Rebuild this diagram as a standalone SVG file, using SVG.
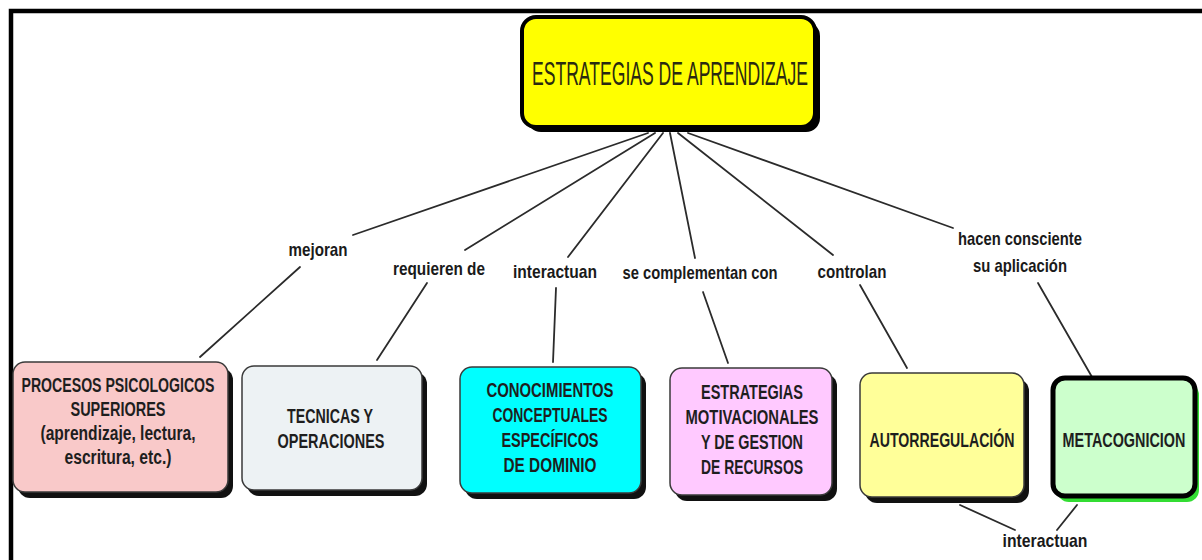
<svg xmlns="http://www.w3.org/2000/svg" width="1202" height="560" viewBox="0 0 1202 560">
<style>
.frame{fill:none;stroke:#000;stroke-width:4.5}
.shadow{fill:#111}
.box{stroke:#3a3a3a;stroke-width:1.5}
.nt{font-family:"Liberation Sans",Arial,sans-serif;font-weight:bold;font-size:20px;fill:#1e1e1e;text-anchor:middle}
.lbl{font-family:"Liberation Sans",Arial,sans-serif;font-weight:bold;font-size:19px;fill:#1a1a1a;text-anchor:middle}
.conn line{stroke:#2b2b2b;stroke-width:1.8;stroke-linecap:round}
</style>
<rect width="1202" height="560" fill="#fff"/>
<path class="frame" d="M11,560 V11 H1202"/>

<g id="connectors" class="conn">
<line x1="648" y1="133" x2="353" y2="235"/>
<line x1="300" y1="267" x2="200" y2="357"/>
<line x1="655" y1="133" x2="465" y2="250"/>
<line x1="427" y1="283" x2="377" y2="360"/>
<line x1="663" y1="133" x2="568" y2="257"/>
<line x1="556" y1="288" x2="553" y2="362"/>
<line x1="670" y1="133" x2="695" y2="258"/>
<line x1="703" y1="292" x2="728" y2="363"/>
<line x1="678" y1="133" x2="833" y2="255"/>
<line x1="860" y1="285" x2="907" y2="368"/>
<line x1="688" y1="133" x2="953" y2="228"/>
<line x1="1038" y1="283" x2="1092" y2="377"/>
<line x1="960" y1="505" x2="1015" y2="530"/>
<line x1="1077" y1="505" x2="1057" y2="530"/>
</g>

<g id="labels">
<text class="lbl" x="318" y="256" textLength="59" lengthAdjust="spacingAndGlyphs">mejoran</text>
<text class="lbl" x="439" y="275" textLength="92" lengthAdjust="spacingAndGlyphs">requieren de</text>
<text class="lbl" x="555" y="278" textLength="84" lengthAdjust="spacingAndGlyphs">interactuan</text>
<text class="lbl" x="700" y="279" textLength="155" lengthAdjust="spacingAndGlyphs">se complementan con</text>
<text class="lbl" x="852" y="278" textLength="69" lengthAdjust="spacingAndGlyphs">controlan</text>
<text class="lbl" x="1020" y="245" textLength="124" lengthAdjust="spacingAndGlyphs">hacen consciente</text>
<text class="lbl" x="1020" y="272" textLength="94" lengthAdjust="spacingAndGlyphs">su aplicación</text>
<text class="lbl" x="1045" y="547" textLength="85" lengthAdjust="spacingAndGlyphs">interactuan</text>
</g>

<g id="n-estrategias-aprendizaje">
<rect x="527" y="22" width="293" height="110" rx="14" fill="#000"/>
<rect x="522" y="17" width="293" height="110" rx="14" fill="#ffff00" stroke="#000" stroke-width="4"/>
<text x="670" y="85" font-family="'Liberation Sans',Arial,sans-serif" font-size="34" fill="#2a2a10" text-anchor="middle" textLength="276" lengthAdjust="spacingAndGlyphs">ESTRATEGIAS DE APRENDIZAJE</text>
</g>

<g id="n-procesos">
<rect class="shadow" x="18" y="368" width="215" height="130" rx="12"/>
<rect class="box" x="13" y="362" width="215" height="130" rx="12" fill="#f9c9c9"/>
<text class="nt" x="118" y="392" textLength="193" lengthAdjust="spacingAndGlyphs">PROCESOS PSICOLOGICOS</text>
<text class="nt" x="118" y="416" textLength="95" lengthAdjust="spacingAndGlyphs">SUPERIORES</text>
<text class="nt" x="118" y="440" textLength="155" lengthAdjust="spacingAndGlyphs">(aprendizaje, lectura,</text>
<text class="nt" x="118" y="464" textLength="107" lengthAdjust="spacingAndGlyphs">escritura, etc.)</text>
</g>

<g id="n-tecnicas">
<rect class="shadow" x="247" y="372" width="180" height="124" rx="12"/>
<rect class="box" x="242" y="366" width="180" height="124" rx="12" fill="#edf2f4"/>
<text class="nt" x="330" y="423" textLength="86" lengthAdjust="spacingAndGlyphs">TECNICAS Y</text>
<text class="nt" x="331" y="448" textLength="107" lengthAdjust="spacingAndGlyphs">OPERACIONES</text>
</g>

<g id="n-conocimientos">
<rect class="shadow" x="465" y="373" width="181" height="126" rx="12"/>
<rect class="box" x="460" y="367" width="181" height="126" rx="12" fill="#00ffff"/>
<text class="nt" x="550" y="397" textLength="127" lengthAdjust="spacingAndGlyphs">CONOCIMIENTOS</text>
<text class="nt" x="550" y="422" textLength="115" lengthAdjust="spacingAndGlyphs">CONCEPTUALES</text>
<text class="nt" x="550" y="447" textLength="97" lengthAdjust="spacingAndGlyphs">ESPECÍFICOS</text>
<text class="nt" x="550" y="472" textLength="93" lengthAdjust="spacingAndGlyphs">DE DOMINIO</text>
</g>

<g id="n-motivacionales">
<rect class="shadow" x="675" y="374" width="162" height="127" rx="12"/>
<rect class="box" x="670" y="368" width="162" height="127" rx="12" fill="#ffc9ff"/>
<text class="nt" x="752" y="399" textLength="102" lengthAdjust="spacingAndGlyphs">ESTRATEGIAS</text>
<text class="nt" x="752" y="424" textLength="133" lengthAdjust="spacingAndGlyphs">MOTIVACIONALES</text>
<text class="nt" x="752" y="449" textLength="102" lengthAdjust="spacingAndGlyphs">Y DE GESTION</text>
<text class="nt" x="752" y="474" textLength="102" lengthAdjust="spacingAndGlyphs">DE RECURSOS</text>
</g>

<g id="n-autorregulacion">
<rect class="shadow" x="865" y="379" width="164" height="124" rx="12"/>
<rect class="box" x="860" y="373" width="164" height="124" rx="12" fill="#ffff99"/>
<text class="nt" x="942" y="447" textLength="145" lengthAdjust="spacingAndGlyphs">AUTORREGULACIÓN</text>
</g>

<g id="n-metacognicion">
<rect x="1057" y="383" width="142" height="119" rx="12" fill="#33dd33"/>
<rect x="1053" y="378" width="142" height="118" rx="12" fill="#ccffcc" stroke="#000" stroke-width="5"/>
<text class="nt" x="0" y="0" transform="translate(1124,447) scale(0.72,1)">METACOGNICION</text>
</g>
</svg>
